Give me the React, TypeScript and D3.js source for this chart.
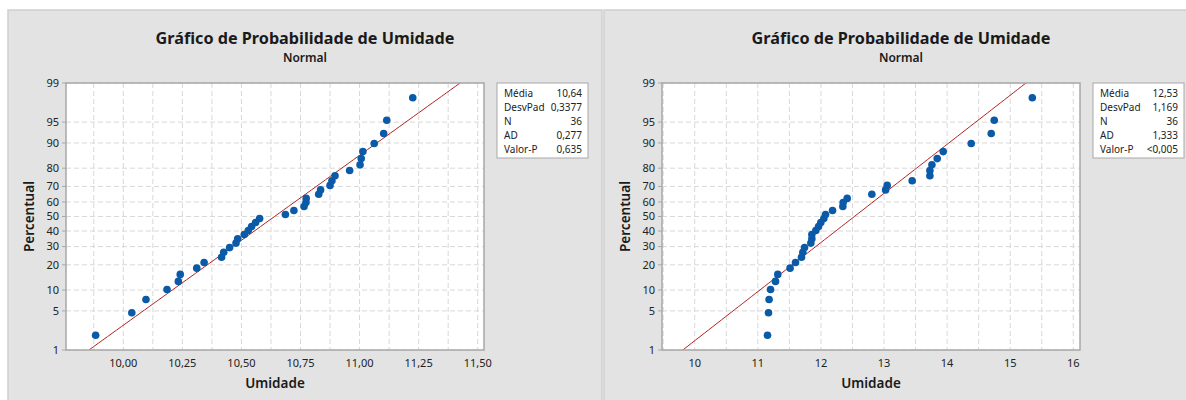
import React from "react";
import * as d3 from "d3";

// ---------- data ----------
const leftValues = [
  9.883, 10.036, 10.096, 10.185, 10.233, 10.241, 10.311, 10.342, 10.416, 10.425,
  10.45, 10.477, 10.484, 10.512, 10.529, 10.543, 10.56, 10.577, 10.686, 10.722,
  10.765, 10.773, 10.774, 10.827, 10.835, 10.875, 10.883, 10.896, 10.958, 11.002,
  11.007, 11.014, 11.062, 11.102, 11.115, 11.225,
];
const rightValues = [
  11.153, 11.169, 11.178, 11.201, 11.28, 11.316, 11.511, 11.597, 11.692, 11.713,
  11.74, 11.84, 11.856, 11.856, 11.919, 11.962, 11.998, 12.046, 12.073, 12.184,
  12.347, 12.352, 12.416, 12.807, 13.025, 13.05, 13.446, 13.727, 13.727, 13.759,
  13.843, 13.938, 14.382, 14.699, 14.747, 15.35,
];
const leftStats = { mean: 10.64, sd: 0.3377 };
const rightStats = { mean: 12.53, sd: 1.169 };
const leftLegendValues = ["10,64", "0,3377", "36", "0,277", "0,635"];
const rightLegendValues = ["12,53", "1,169", "36", "1,333", "<0,005"];
const legendLabels = ["Média", "DesvPad", "N", "AD", "Valor-P"];
const probTicks = [1, 5, 10, 20, 30, 40, 50, 60, 70, 80, 90, 95, 99];
const leftXTicks = [10, 10.25, 10.5, 10.75, 11, 11.25, 11.5];
const leftXDomain = [9.7575, 11.5266];
const rightXTicks = [10, 11, 12, 13, 14, 15, 16];
const rightXDomain = [9.481, 16.106];
const title = "Gráfico de Probabilidade de Umidade";
const subtitle = "Normal";
const xLabel = "Umidade";
const yLabel = "Percentual";

// inverse normal CDF (Acklam)
function probit(p: number): number {
  const a = [-3.969683028665376e1, 2.209460984245205e2, -2.759285104469687e2, 1.38357751867269e2, -3.066479806614716e1, 2.506628277459239];
  const b = [-5.447609879822406e1, 1.615858368580409e2, -1.556989798598866e2, 6.680131188771972e1, -1.328068155288572e1];
  const c = [-7.784894002430293e-3, -3.223964580411365e-1, -2.400758277161838, -2.549732539343734, 4.374664141464968, 2.938163982698783];
  const d = [7.784695709041462e-3, 3.224671290700398e-1, 2.445134137142996, 3.754408661907416];
  const pl = 0.02425;
  let q, r;
  if (p < pl) {
    q = Math.sqrt(-2 * Math.log(p));
    return (((((c[0] * q + c[1]) * q + c[2]) * q + c[3]) * q + c[4]) * q + c[5]) / ((((d[0] * q + d[1]) * q + d[2]) * q + d[3]) * q + 1);
  } else if (p <= 1 - pl) {
    q = p - 0.5;
    r = q * q;
    return ((((((a[0] * r + a[1]) * r + a[2]) * r + a[3]) * r + a[4]) * r + a[5]) * q) / (((((b[0] * r + b[1]) * r + b[2]) * r + b[3]) * r + b[4]) * r + 1);
  } else {
    q = Math.sqrt(-2 * Math.log(1 - p));
    return -(((((c[0] * q + c[1]) * q + c[2]) * q + c[3]) * q + c[4]) * q + c[5]) / ((((d[0] * q + d[1]) * q + d[2]) * q + d[3]) * q + 1);
  }
}

const FONT = "'Noto Sans', 'Open Sans', sans-serif";
const PW = 594;
const PH = 390;
const PL = 58, PR = 476, PT = 73, PB = 340;

function fmtComma(v: number, digits: number) {
  return v.toFixed(digits).replace(".", ",");
}

function Panel({ ox, values, stats, xTicks, xDomain, gridStep, digits, legendValues, id }: any) {
  const x = d3.scaleLinear().domain(xDomain).range([PL, PR]);
  const zMax = probit(0.99);
  const y = d3.scaleLinear().domain([-zMax, zMax]).range([PB, PT]);
  const n = values.length;
  const sorted = [...values].sort((a: number, b: number) => a - b);
  const pts = sorted.map((v: number, i: number) => ({ v, z: probit((i + 1 - 0.3) / (n + 0.4)) }));
  const gridX = d3.range(Math.ceil(xDomain[0] / gridStep) * gridStep, xDomain[1] + 1e-9, gridStep);
  const lineZ = d3.range(-zMax, zMax + 1e-9, zMax / 40);
  const line = d3.line<number>().x((z) => x(stats.mean + z * stats.sd)).y((z) => y(z));
  const cx = (PL + PR) / 2;
  const cy = (PT + PB) / 2;
  return (
    <g transform={`translate(${ox},10)`}>
      <rect x={0} y={0} width={PW} height={PH + 5} fill="#e3e3e3" stroke="#cfcfcf" strokeWidth={1.5} />
      <text x={PW / 2} y={33.5} textAnchor="middle" fontSize={16.2} fontWeight={700} fill="#1a1a1a">{title}</text>
      <text x={PW / 2} y={52} textAnchor="middle" fontSize={12} fontWeight={600} fill="#1a1a1a">{subtitle}</text>
      <clipPath id={id}><rect x={PL} y={PT} width={PR - PL} height={PB - PT} /></clipPath>
      <rect x={PL} y={PT} width={PR - PL} height={PB - PT} fill="#ffffff" />
      {gridX.map((g: number, i: number) => (
        <line key={"gx" + i} x1={x(g)} x2={x(g)} y1={PT} y2={PB} stroke="#d8d8d8" strokeDasharray="5,3" />
      ))}
      {probTicks.map((p) => (
        <line key={"gy" + p} x1={PL} x2={PR} y1={y(probit(p / 100))} y2={y(probit(p / 100))} stroke="#d8d8d8" strokeDasharray="5,3" />
      ))}
      <path d={line(lineZ) || ""} fill="none" stroke="#b22222" strokeWidth={1} clipPath={`url(#${id})`} />
      {pts.map((p: any, i: number) => (
        <circle key={"pt" + i} cx={x(p.v)} cy={y(p.z)} r={3.8} fill="#0a5aa8" />
      ))}
      <rect x={PL} y={PT} width={PR - PL} height={PB - PT} fill="none" stroke="#a8a8a8" strokeWidth={1.5} />
      {probTicks.map((p) => (
        <g key={"yt" + p}>
          <line x1={PL - 4} x2={PL} y1={y(probit(p / 100))} y2={y(probit(p / 100))} stroke="#a8a8a8" />
          <text x={PL - 7} y={y(probit(p / 100))} dy="0.35em" textAnchor="end" fontSize={11} fill="#222">{p}</text>
        </g>
      ))}
      {xTicks.map((t: number) => (
        <text key={"xt" + t} x={x(t)} y={PB + 17} textAnchor="middle" fontSize={11} fill="#222">{fmtComma(t, digits)}</text>
      ))}
      <text x={cx} y={PB + 38} textAnchor="middle" fontSize={13.5} fontWeight={600} fill="#1a1a1a">{xLabel}</text>
      <text transform={`translate(${PL - 32},${cy}) rotate(-90)`} textAnchor="middle" fontSize={13.5} fontWeight={600} fill="#1a1a1a">{yLabel}</text>
      <g transform={`translate(489,${PT})`}>
        <rect x={0} y={0} width={91} height={75} fill="#ffffff" stroke="#a8a8a8" />
        {legendLabels.map((l, i) => (
          <g key={l}>
            <text x={7} y={10 + i * 14} dy="0.35em" fontSize={10} fill="#222">{l}</text>
            <text x={85} y={10 + i * 14} dy="0.35em" textAnchor="end" fontSize={10} fill="#222">{legendValues[i]}</text>
          </g>
        ))}
      </g>
    </g>
  );
}

export default function App() {
  return (
    <svg width={1186} height={400} style={{ position: "absolute", left: 0, top: 0, fontFamily: FONT }}>
      <rect width={1186} height={400} fill="#ffffff" />
      <Panel ox={8} id="clipL" values={leftValues} stats={leftStats} xTicks={leftXTicks} xDomain={leftXDomain} gridStep={0.125} digits={2} legendValues={leftLegendValues} />
      <Panel ox={604} id="clipR" values={rightValues} stats={rightStats} xTicks={rightXTicks} xDomain={rightXDomain} gridStep={0.5} digits={0} legendValues={rightLegendValues} />
    </svg>
  );
}
